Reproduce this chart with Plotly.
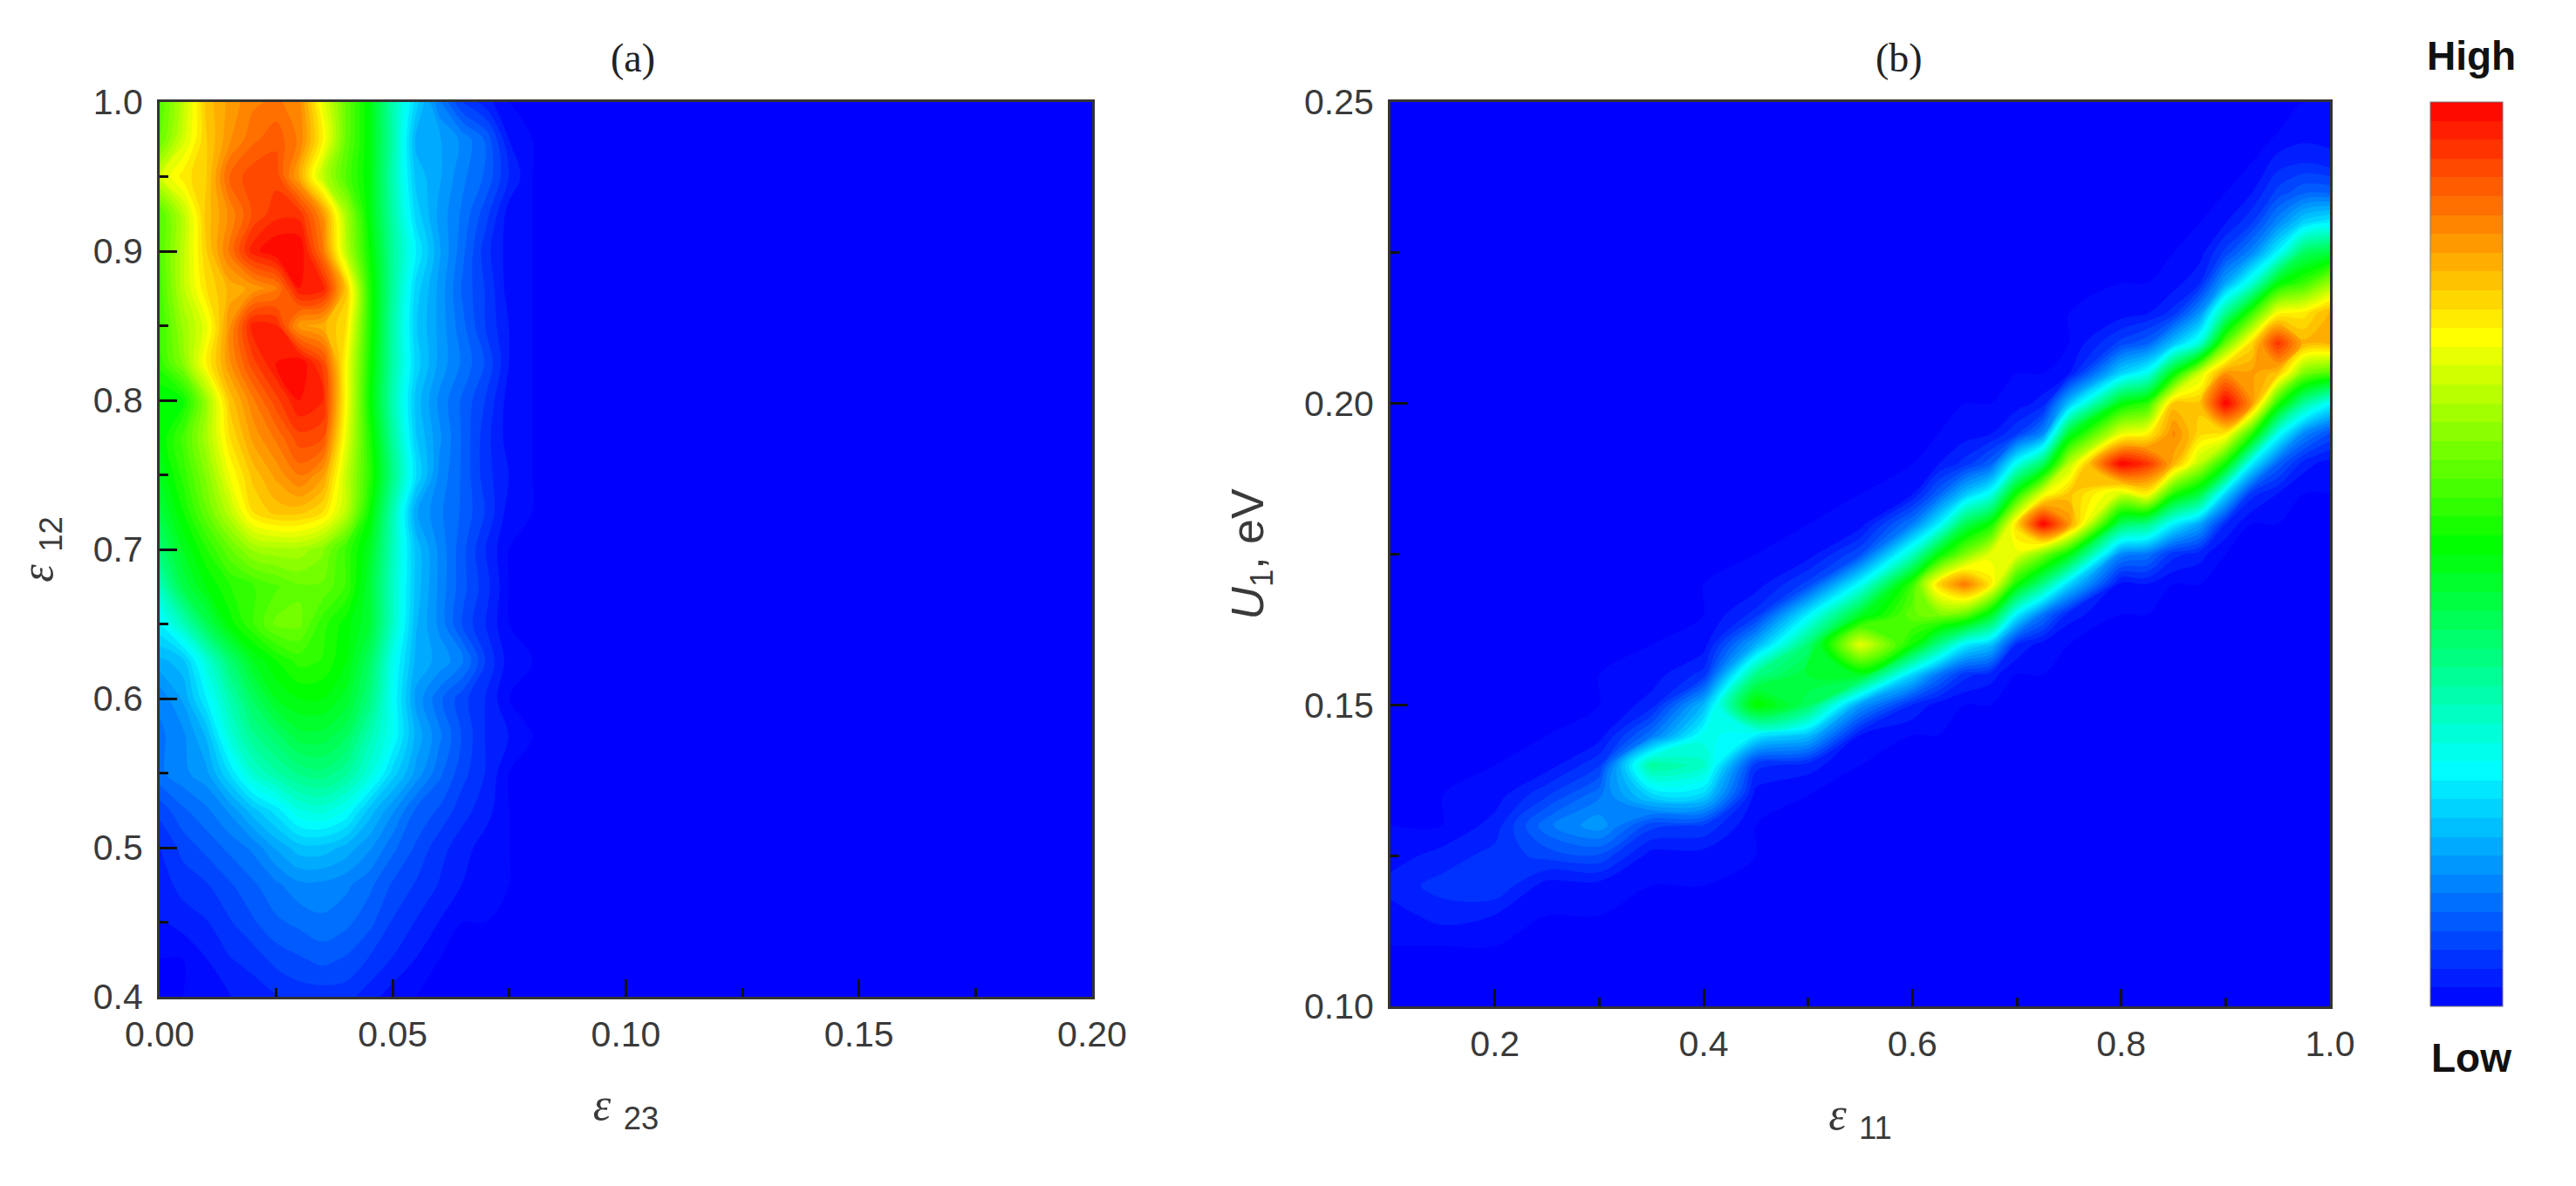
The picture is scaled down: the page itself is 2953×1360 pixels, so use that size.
import plotly.graph_objects as go

# color stops
SCALE = [
    [0.0, "#0000ff"],
    [0.264, "#00ffff"],
    [0.51, "#00ff00"],
    [0.74, "#ffff00"],
    [1.0, "#ff0000"],
]

# panel (a): eps_23 across, eps_12 up, intensity 0..1
eps23 = [0, .005, .01, .015, .02, .025, .03, .035, .04, .045, .05, .055, .06, .065, .07, .075, .08, .2]
eps12 = [.4, .425, .45, .475, .5, .525, .55, .575, .6, .625, .65, .675, .7,
         .725, .75, .775, .8, .825, .85, .875, .9, .925, .95, .975, 1.0]
map_a = [
    [0, 0, .01, .02, .03, .04, .05, .05, .05, .03, .01, 0, 0, 0, 0, 0, 0, 0],
    [0, 0, .02, .04, .05, .07, .08, .09, .08, .06, .04, .02, 0, 0, 0, 0, 0, 0],
    [.02, .03, .04, .06, .08, .1, .11, .12, .11, .09, .06, .04, .02, 0, 0, 0, 0, 0],
    [.03, .05, .06, .08, .1, .12, .14, .14, .13, .11, .08, .06, .04, .02, .01, 0, 0, 0],
    [.04, .07, .09, .11, .13, .17, .2, .2, .18, .15, .11, .08, .05, .03, .01, 0, 0, 0],
    [.07, .1, .12, .15, .2, .24, .29, .3, .27, .2, .15, .1, .08, .05, .03, 0, 0, 0],
    [.12, .14, .16, .23, .31, .35, .38, .39, .36, .3, .22, .16, .11, .07, .04, 0, 0, 0],
    [.12, .14, .19, .3, .37, .41, .45, .45, .42, .34, .27, .18, .13, .08, .04, .02, 0, 0],
    [.13, .17, .25, .34, .42, .48, .5, .5, .47, .39, .27, .16, .11, .07, .04, 0, 0, 0],
    [.18, .2, .3, .4, .48, .52, .55, .54, .5, .42, .28, .18, .16, .13, .06, .01, 0, 0],
    [.25, .33, .43, .51, .56, .61, .61, .55, .51, .46, .32, .19, .14, .08, .04, 0, 0, 0],
    [.33, .44, .5, .54, .56, .58, .6, .6, .56, .46, .32, .2, .14, .09, .05, 0, 0, 0],
    [.4, .48, .54, .6, .65, .66, .66, .63, .56, .48, .33, .2, .14, .09, .04, 0, 0, 0],
    [.45, .52, .6, .68, .77, .8, .8, .77, .68, .52, .34, .17, .13, .1, .06, .01, 0, 0],
    [.48, .55, .63, .73, .8, .84, .88, .84, .69, .55, .38, .23, .14, .1, .05, .02, 0, 0],
    [.5, .57, .66, .77, .84, .88, .93, .92, .72, .54, .36, .21, .15, .1, .05, .01, 0, 0],
    [.5, .52, .65, .8, .87, .93, .98, .96, .74, .52, .34, .2, .14, .1, .06, .01, 0, 0],
    [.55, .63, .75, .85, .93, .98, 1, .93, .74, .53, .35, .22, .16, .12, .08, .02, 0, 0],
    [.56, .65, .72, .85, .97, .96, .84, .82, .77, .54, .35, .21, .16, .11, .06, .02, 0, 0],
    [.57, .68, .77, .82, .84, .87, .98, .97, .8, .54, .36, .22, .16, .1, .06, .01, 0, 0],
    [.58, .68, .79, .88, .97, 1, 1, .88, .68, .52, .36, .25, .17, .11, .05, .01, 0, 0],
    [.58, .68, .8, .86, .92, .95, .95, .85, .66, .5, .35, .22, .16, .12, .07, .01, 0, 0],
    [.7, .76, .79, .9, .93, .93, .83, .68, .58, .5, .34, .2, .17, .13, .1, .04, 0, 0],
    [.6, .7, .79, .85, .89, .91, .87, .75, .6, .5, .35, .18, .17, .14, .1, .02, 0, 0],
    [.58, .68, .8, .84, .87, .88, .86, .72, .6, .5, .34, .22, .13, .06, .03, 0, 0, 0],
]

# panel (b): eps_11 across, U1 up
eps11 = [.1, .15, .2, .25, .3, .35, .4, .45, .5, .55, .6, .625, .65, .675, .7, .725,
         .75, .8, .825, .85, .875, .9, .925, .95, .975, 1.0]
u1 = [.1, .105, .11, .115, .12, .125, .13, .135, .14, .145, .15, .155, .16, .165, .17, .175,
      .18, .185, .19, .195, .2, .205, .21, .215, .22, .225, .23, .235, .24, .245, .25]
map_b = [
    [0] * 26,
    [0] * 26,
    [0] * 26,
    [.01, .03, .02] + [0] * 23,
    [.03, .05, .06, .01, .01] + [0] * 21,
    [.01, .03, .05, .07, .08, .01, .01] + [0] * 19,
    [0, 0, .03, .12, .16, .07, .06] + [0] * 19,
    [0, 0, .01, .06, .12, .22, .22, .01] + [0] * 18,
    [0, 0, 0, .01, .06, .36, .32, .05, .03] + [0] * 17,
    [0, 0, 0, 0, .01, .12, .28, .25, .2, .02] + [0] * 16,
    [0, 0, 0, 0, 0, .03, .19, .52, .42, .16, .04, .01] + [0] * 14,
    [0, 0, 0, 0, 0, .01, .05, .38, .46, .48, .22, .12, .05, .03] + [0] * 12,
    [0, 0, 0, 0, 0, 0, .01, .18, .4, .72, .52, .38, .25, .2, .04, .01] + [0] * 10,
    [0, 0, 0, 0, 0, 0, 0, .05, .25, .47, .6, .62, .6, .48, .25, .12, .03] + [0] * 9,
    [0, 0, 0, 0, 0, 0, 0, .01, .07, .27, .56, .78, .88, .76, .52, .38, .22, .01, .02] + [0] * 7,
    [0, 0, 0, 0, 0, 0, 0, 0, .01, .08, .32, .5, .62, .72, .72, .62, .5, .14, .12, .05, .03] + [0] * 5,
    [0] * 9 + [.01, .13, .25, .43, .52, .78, 1, .85, .42, .38, .25, .17, .04] + [0] * 4,
    [0] * 10 + [.02, .1, .2, .28, .53, .72, .8, .7, .75, .54, .45, .22, .05, .02, 0, 0],
    [0] * 10 + [0, .02, .05, .1, .28, .42, .68, 1, .95, .82, .68, .52, .25, .1, .03, .01],
    [0] * 10 + [0, 0, .01, .02, .06, .14, .47, .72, .75, .86, .78, .76, .55, .28, .14, .08],
    [0] * 10 + [0, 0, 0, 0, .01, .03, .2, .5, .55, .8, .8, 1, .85, .54, .36, .26],
    [0] * 10 + [0, 0, 0, 0, 0, 0, .02, .22, .28, .5, .7, .85, .84, .8, .62, .58],
    [0] * 10 + [0, 0, 0, 0, 0, 0, 0, .07, .1, .2, .3, .6, .78, .95, .82, .82],
    [0] * 10 + [0, 0, 0, 0, 0, 0, 0, .01, .02, .05, .15, .37, .56, .74, .76, .82],
    [0] * 10 + [0, 0, 0, 0, 0, 0, 0, 0, 0, .01, .04, .17, .3, .5, .56, .65],
    [0] * 10 + [0, 0, 0, 0, 0, 0, 0, 0, 0, 0, .01, .07, .14, .26, .42, .45],
    [0] * 10 + [0, 0, 0, 0, 0, 0, 0, 0, 0, 0, 0, .02, .06, .14, .22, .25],
    [0] * 10 + [0, 0, 0, 0, 0, 0, 0, 0, 0, 0, 0, 0, .02, .07, .1, .1],
    [0] * 10 + [0, 0, 0, 0, 0, 0, 0, 0, 0, 0, 0, 0, 0, .03, .04, .03],
    [0] * 10 + [0, 0, 0, 0, 0, 0, 0, 0, 0, 0, 0, 0, 0, 0, .01, .01],
    [0] * 26,
]

# the page puts an 8px body margin round the plot
PAGE = 8
W, H = 2953 - PAGE, 1360 - PAGE
INK = "#3a3a3a"
SERIF = "Liberation Serif"
SANS = "Liberation Sans"
levels = dict(start=0, end=1, size=1 / 48, coloring="fill", showlines=False)


def fx(px):
    return (px - PAGE) / W


def fy(py):
    return 1 - (py - PAGE) / H


def eps_label(sub):
    return f'<span style="font-family:{SERIF}"><i>ε</i></span> <sub>{sub}</sub>'


def axis(domain, rng, dtick, minor, fmt, anchor, title, standoff, label_gap):
    return dict(
        domain=domain,
        range=rng,
        tick0=rng[0] if dtick != 0.2 else 0,
        dtick=dtick,
        tickformat=fmt,
        ticks="inside",
        ticklen=20,
        tickwidth=3,
        tickcolor="#111111",
        ticklabelstandoff=label_gap,
        minor=dict(dtick=minor, ticks="inside", ticklen=10, tickwidth=3, tickcolor="#111111"),
        showline=True,
        linecolor="#333333",
        linewidth=3,
        mirror=True,
        showgrid=False,
        zeroline=False,
        anchor=anchor,
        tickfont=dict(family=SANS, size=41, color=INK),
        title=dict(text=title, font=dict(family=SANS, size=52, color=INK), standoff=standoff),
    )


fig = go.Figure()
fig.add_trace(go.Contour(
    x=eps23, y=eps12, z=map_a, xaxis="x", yaxis="y",
    colorscale=SCALE, zmin=0, zmax=1, contours=levels, line_width=0,
    colorbar=dict(
        x=fx(2786), xanchor="left", xpad=0,
        y=fy(117), yanchor="top", ypad=0,
        lenmode="pixels", len=1037,
        thicknessmode="pixels", thickness=83,
        ticks="", tickvals=[],
        outlinewidth=1, outlinecolor="#777777",
    ),
))
fig.add_trace(go.Contour(
    x=eps11, y=u1, z=map_b, xaxis="x2", yaxis="y2",
    colorscale=SCALE, zmin=0, zmax=1, contours=levels, line_width=0,
    showscale=False,
))

fig.update_layout(
    width=W,
    height=H,
    margin=dict(l=0, r=0, t=0, b=0, pad=0, autoexpand=False),
    paper_bgcolor="white",
    plot_bgcolor="white",
    showlegend=False,
    xaxis=axis([fx(183), fx(1252)], [0, .2], .05, .025, ".2f", "y", eps_label("23"), 40, 5),
    yaxis=axis([fy(1143), fy(117)], [.4, 1], .1, .05, ".1f", "x", eps_label("12"), 30, 8),
    xaxis2=axis([fx(1594), fx(2671)], [.1, 1], .2, .1, ".1f", "y2", eps_label("11"), 40, 5),
    yaxis2=axis([fy(1154), fy(117)], [.1, .25], .05, .025, ".2f", "x2",
                "<i>U</i><sub>1</sub>, eV", 30, 8),
)

for text, px, py, font in [
    ("(a)", 725, 66, dict(family=SERIF, size=46, color="#222222")),
    ("(b)", 2177, 66, dict(family=SERIF, size=46, color="#222222")),
    ("<b>High</b>", 2833, 64, dict(family=SANS, size=46, color="#111111")),
    ("<b>Low</b>", 2833, 1213, dict(family=SANS, size=46, color="#111111")),
]:
    fig.add_annotation(text=text, x=fx(px), y=fy(py), xref="paper", yref="paper",
                       showarrow=False, font=font, xanchor="center", yanchor="middle")

fig.write_html("out.html")
